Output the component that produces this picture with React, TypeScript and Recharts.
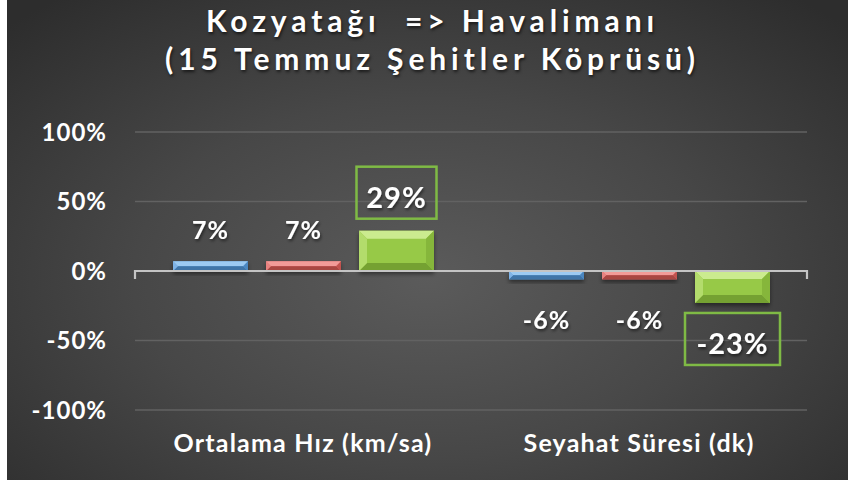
import React from 'react';
import {
  BarChart,
  Bar,
  XAxis,
  YAxis,
  CartesianGrid,
  ReferenceLine,
  LabelList,
} from 'recharts';

const categories = ['Ortalama Hız (km/sa)', 'Seyahat Süresi (dk)'];
const blueValues = [7, -6];
const redValues = [7, -6];
const greenValues = [29, -23];
const yTicks = [-100, -50, 0, 50, 100];

const data = categories.map((name, i) => ({
  name,
  blue: blueValues[i],
  red: redValues[i],
  green: greenValues[i],
}));

const FONT = 'Lato, "Open Sans", sans-serif';

const palettes: Record<string, { base: string; top: string; left: string; right: string; bottom: string }> = {
  blue: { base: '#5b9bd5', top: '#9ccaf2', left: '#7fb3e6', right: '#4c87c0', bottom: '#3f74a8' },
  red: { base: '#dc6461', top: '#f29b98', left: '#e88381', right: '#c25350', bottom: '#a94643' },
  green: { base: '#97c947', top: '#cbeb8f', left: '#b3dc6c', right: '#86b63b', bottom: '#74a130' },
};

function BevelBar(props: any, key: string) {
  const { x, y, width, height } = props;
  const p = palettes[key];
  const top = Math.min(y, y + height);
  const bot = Math.max(y, y + height);
  const h = bot - top;
  if (h <= 0) return null;
  const b = Math.min(8, h / 2, width / 2);
  const r = x + width;
  return (
    <g filter="url(#barShadow)">
      <rect x={x} y={top} width={width} height={h} fill={p.base} />
      <polygon points={`${x},${top} ${r},${top} ${r - b},${top + b} ${x + b},${top + b}`} fill={p.top} />
      <polygon points={`${x},${bot} ${r},${bot} ${r - b},${bot - b} ${x + b},${bot - b}`} fill={p.bottom} />
      <polygon points={`${x},${top} ${x + b},${top + b} ${x + b},${bot - b} ${x},${bot}`} fill={p.left} />
      <polygon points={`${r},${top} ${r - b},${top + b} ${r - b},${bot - b} ${r},${bot}`} fill={p.right} />
    </g>
  );
}

function PlainLabel(props: any) {
  const { x, y, width, height, value } = props;
  const top = Math.min(y, y + height);
  const bot = Math.max(y, y + height);
  const cx = x + width / 2;
  const cy = value >= 0 ? top - 32 : bot + 40;
  return (
    <text x={cx} y={cy} textAnchor="middle" dominantBaseline="central" fill="#ffffff"
      fontFamily={FONT} fontWeight={700} fontSize={25} letterSpacing={1} filter="url(#textShadow)">
      {`${value}%`}
    </text>
  );
}

function BoxedLabel(props: any) {
  const { x, y, width, height, value } = props;
  const top = Math.min(y, y + height);
  const bot = Math.max(y, y + height);
  const cx = x + width / 2;
  const txt = `${value}%`;
  const bw = txt.length * 15 + 35;
  const bh = 52;
  const by = value >= 0 ? top - 12 - bh : bot + 10;
  return (
    <g>
      <rect x={cx - bw / 2} y={by} width={bw} height={bh} fill="none" stroke="#7fba45" strokeWidth={2.5} />
      <text x={cx} y={by + bh / 2 + 4} textAnchor="middle" dominantBaseline="central" fill="#ffffff"
        fontFamily={FONT} fontWeight={700} fontSize={29} letterSpacing={1} filter="url(#textShadow)">
        {txt}
      </text>
    </g>
  );
}

function ZeroLine(props: any) {
  const { x1, y1, x2 } = props;
  return (
    <path d={`M${x1},${y1 + 8} V${y1} H${x2} V${y1 + 8}`} fill="none" stroke="#c4c4c4" strokeWidth={2.2} />
  );
}

export default function App() {
  return (
    <div style={{ position: 'relative', width: 860, height: 480, background: '#ffffff', overflow: 'hidden' }}>
      <style>{'body{margin:0}'}</style>
      <div
        style={{
          position: 'absolute',
          left: 7,
          top: 0,
          width: 841,
          height: 480,
          background: 'radial-gradient(ellipse 70% 75% at 50% 58%, #5b5b5b 0%, #474747 50%, #2d2d2d 100%)',
        }}
      />
      <div
        style={{
          position: 'absolute',
          left: 0,
          top: 1,
          width: 860,
          paddingLeft: 5,
          boxSizing: 'border-box',
          textAlign: 'center',
          color: '#ffffff',
          fontFamily: FONT,
          fontWeight: 700,
          fontSize: 30,
          letterSpacing: 4.9,
          lineHeight: '38px',
          textShadow: '1px 2px 3px rgba(0,0,0,0.6)',
          whiteSpace: 'pre',
        }}
      >
        {'Kozyatağı  => Havalimanı\n(15 Temmuz Şehitler Köprüsü)'}
      </div>
      <div style={{ position: 'absolute', left: 0, top: 0 }}>
        <BarChart
          width={860}
          height={480}
          data={data}
          margin={{ top: 132, right: 53, bottom: 0, left: 15 }}
          barSize={75}
          barGap={18}
        >
          <defs>
            <filter id="barShadow" x="-20%" y="-50%" width="140%" height="200%">
              <feDropShadow dx="0" dy="3" stdDeviation="2" floodColor="#000" floodOpacity="0.45" />
            </filter>
            <filter id="textShadow" x="-20%" y="-30%" width="140%" height="160%">
              <feDropShadow dx="1" dy="2" stdDeviation="1.5" floodColor="#000" floodOpacity="0.55" />
            </filter>
          </defs>
          <CartesianGrid horizontal vertical={false} stroke="#626262" strokeWidth={1.5} />
          <XAxis
            dataKey="name"
            axisLine={false}
            tickLine={false}
            tickSize={0}
            tickMargin={24}
            height={70}
            tick={{ fill: '#ffffff', fontFamily: FONT, fontWeight: 700, fontSize: 25, letterSpacing: 1.2 }}
          />
          <YAxis
            domain={[-100, 100]}
            ticks={yTicks}
            interval={0}
            width={120}
            axisLine={false}
            tickLine={false}
            tickSize={0}
            tickMargin={28}
            tickFormatter={(v: number) => `${v}%`}
            tick={{ fill: '#ffffff', fontFamily: FONT, fontWeight: 700, fontSize: 24, letterSpacing: 1 }}
          />
          <ReferenceLine y={0} shape={ZeroLine} />
          <Bar dataKey="blue" isAnimationActive={false} shape={(p: any) => BevelBar(p, 'blue')}>
            <LabelList dataKey="blue" content={PlainLabel} />
          </Bar>
          <Bar dataKey="red" isAnimationActive={false} shape={(p: any) => BevelBar(p, 'red')}>
            <LabelList dataKey="red" content={PlainLabel} />
          </Bar>
          <Bar dataKey="green" isAnimationActive={false} shape={(p: any) => BevelBar(p, 'green')}>
            <LabelList dataKey="green" content={BoxedLabel} />
          </Bar>
        </BarChart>
      </div>
    </div>
  );
}
